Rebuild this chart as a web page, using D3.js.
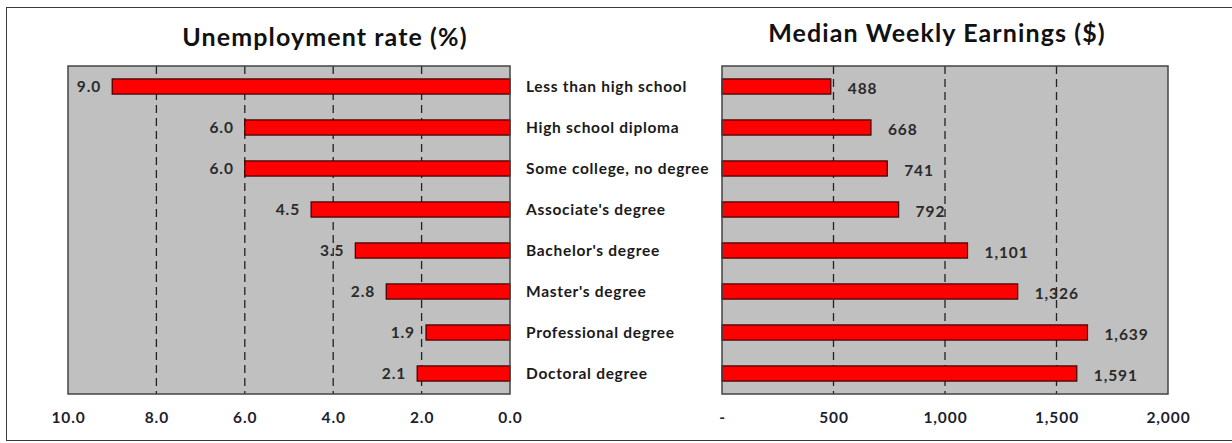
<!DOCTYPE html>
<html>
<head>
<meta charset="utf-8">
<script src="https://cdn.jsdelivr.net/npm/d3@7"></script>
<style>
  html, body { margin: 0; padding: 0; background: #fff; }
  svg { display: block; }
  text { font-family: Lato, "Open Sans", sans-serif; font-weight: bold; }
</style>
</head>
<body>
<svg id="chart" width="1232" height="443"></svg>
<script>
// Education level categories (top to bottom)
const categories = [
  "Less than high school",
  "High school diploma",
  "Some college, no degree",
  "Associate's degree",
  "Bachelor's degree",
  "Master's degree",
  "Professional degree",
  "Doctoral degree"
];
// Unemployment rate (%)
const unemployment = [9.0, 6.0, 6.0, 4.5, 3.5, 2.8, 1.9, 2.1];
// Median weekly earnings ($)
const earnings = [488, 668, 741, 792, 1101, 1326, 1639, 1591];
// Axis ticks
const unempTicks = [10, 8, 6, 4, 2, 0];
const earnTicks = [0, 500, 1000, 1500, 2000];

const svg = d3.select("#chart");

// outer frame
svg.append("rect")
  .attr("x", 6.5).attr("y", 7.5)
  .attr("width", 1240).attr("height", 433)
  .attr("fill", "none").attr("stroke", "#3a3a3a").attr("stroke-width", 1);

const plotTop = 66, plotBottom = 394;
const y = d3.scaleBand().domain(categories).range([plotTop, plotBottom]).paddingInner(0.63).paddingOuter(0.315);

function panel(opts) {
  const g = svg.append("g");
  const x = opts.x;
  const [x0, x1] = [Math.min(...x.range()), Math.max(...x.range())];

  g.append("rect")
    .attr("x", x0).attr("y", plotTop)
    .attr("width", x1 - x0).attr("height", plotBottom - plotTop)
    .attr("fill", "#c0c0c0");

  // dashed gridlines
  g.selectAll("line.grid")
    .data(opts.grid)
    .join("line")
    .attr("class", "grid")
    .attr("x1", d => x(d)).attr("x2", d => x(d))
    .attr("y1", plotTop).attr("y2", plotBottom)
    .attr("stroke", "#222").attr("stroke-width", 1.3)
    .attr("stroke-dasharray", "8,5");

  // bars
  g.selectAll("rect.bar")
    .data(opts.values)
    .join("rect")
    .attr("class", "bar")
    .attr("x", d => Math.min(x(d), x(0)))
    .attr("y", (d, i) => y(categories[i]))
    .attr("width", d => Math.abs(x(d) - x(0)))
    .attr("height", y.bandwidth())
    .attr("fill", "#ff0000")
    .attr("stroke", "#3a0000").attr("stroke-width", 1.2);

  // value labels
  g.selectAll("text.val")
    .data(opts.values)
    .join("text")
    .attr("class", "val")
    .attr("x", d => opts.labelX(d))
    .attr("y", (d, i) => y(categories[i]) + y.bandwidth() / 2 + opts.labelDy)
    .attr("dy", "0.35em")
    .attr("text-anchor", opts.anchor)
    .attr("font-size", 15.5)
    .attr("letter-spacing", 0.9)
    .attr("fill", "#2a2a2a")
    .text(opts.fmt);

  // plot border
  g.append("rect")
    .attr("x", x0).attr("y", plotTop)
    .attr("width", x1 - x0).attr("height", plotBottom - plotTop)
    .attr("fill", "none").attr("stroke", "#444").attr("stroke-width", 1.5);

  // tick labels
  const axis = d3.axisBottom(x).tickValues(opts.ticks).tickSize(0).tickPadding(0).tickFormat(opts.tickFmt);
  const ag = g.append("g").attr("transform", `translate(0,${plotBottom})`).call(axis);
  ag.select(".domain").remove();
  ag.selectAll("text")
    .attr("y", 24)
    .attr("dy", "0.35em")
    .attr("font-size", 15.5)
    .attr("letter-spacing", 0.9)
    .attr("font-family", "Lato, sans-serif")
    .attr("font-weight", "bold")
    .attr("fill", "#1e1e30");

  // title
  svg.append("text")
    .attr("x", opts.titleX).attr("y", opts.titleY)
    .attr("text-anchor", "middle")
    .attr("font-size", 25)
    .attr("letter-spacing", 1.1)
    .attr("fill", "#111")
    .text(opts.title);
}

// Left panel: unemployment, axis reversed
const xU = d3.scaleLinear().domain([10, 0]).range([68, 510]);
panel({
  x: xU,
  values: unemployment,
  grid: [8, 6, 4, 2],
  ticks: unempTicks,
  tickFmt: d3.format(".1f"),
  fmt: d3.format(".1f"),
  labelX: d => xU(d) - 11,
  labelDy: 0,
  anchor: "end",
  title: "Unemployment rate (%)",
  titleX: 325, titleY: 46
});

// Right panel: earnings
const xE = d3.scaleLinear().domain([0, 2000]).range([722, 1168]);
panel({
  x: xE,
  values: earnings,
  grid: [500, 1000, 1500],
  ticks: earnTicks,
  tickFmt: d => d === 0 ? "-" : d3.format(",")(d),
  fmt: d3.format(","),
  labelX: d => xE(d) + 17,
  labelDy: 2,
  anchor: "start",
  title: "Median Weekly Earnings ($)",
  titleX: 937, titleY: 42
});

// category labels between panels
svg.append("g").selectAll("text")
  .data(categories)
  .join("text")
  .attr("x", 526)
  .attr("y", d => y(d) + y.bandwidth() / 2)
  .attr("dy", "0.35em")
  .attr("font-size", 15.5)
  .attr("letter-spacing", 0.7)
  .attr("fill", "#1a1a1a")
  .text(d => d);
</script>
</body>
</html>
